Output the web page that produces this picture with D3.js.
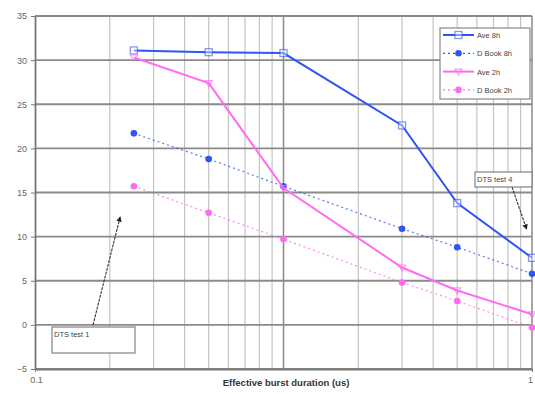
<!DOCTYPE html>
<html><head><meta charset="utf-8">
<script src="https://cdn.jsdelivr.net/npm/d3@7"></script>
<style>body{margin:0;background:#fff}svg{display:block;font-family:"Liberation Sans",Arial,sans-serif}</style>
</head><body><svg id="c" width="535" height="394"></svg>
<script>
const xValues = [0.25, 0.5, 1, 3, 5, 10];
const ave8h   = [31.1, 30.9, 30.8, 22.6, 13.8, 7.6];
const dBook8h = [21.7, 18.8, 15.7, 10.9, 8.8, 5.8];
const ave2h   = [30.3, 27.4, 15.5, 6.5, 3.9, 1.2];
const dBook2h = [15.7, 12.7, 9.7, 4.8, 2.7, -0.3];
const seriesNames = ["Ave 8h", "D Book 8h", "Ave 2h", "D Book 2h"];
const yTicks = [-5, 0, 5, 10, 15, 20, 25, 30, 35];
const xTickValues = [0.1, 10];
const xTickLabels = ["0.1", "1"];
const xTitle = "Effective burst duration (us)";
const notes = [{label:"DTS test 1", x:0.22, y:12.2}, {label:"DTS test 4", x:9.5, y:10.9}];

const svg = d3.select("#c");
const x = d3.scaleLog().domain([0.1, 10]).range([35, 532]);
const y = d3.scaleLinear().domain([-5, 35]).range([369, 16]);

const minor = [];
[0.1, 1].forEach(d => { for (let k = 2; k <= 9; k++) minor.push(d * k); });
svg.append("g").selectAll("line").data(minor).join("line")
  .attr("x1", d => x(d)).attr("x2", d => x(d)).attr("y1", y(35)).attr("y2", y(-5))
  .attr("stroke", "#c4c4c4").attr("stroke-width", 1.2);
svg.append("g").selectAll("line").data([1, 10]).join("line")
  .attr("x1", d => x(d)).attr("x2", d => x(d)).attr("y1", y(35)).attr("y2", y(-5))
  .attr("stroke", "#8a8a8a").attr("stroke-width", 1.5);
svg.append("g").selectAll("line").data(yTicks).join("line")
  .attr("x1", 35).attr("x2", 532).attr("y1", d => y(d)).attr("y2", d => y(d))
  .attr("stroke", "#8a8a8a").attr("stroke-width", 1.8);

const ya = svg.append("g").attr("transform", "translate(35,0)")
  .call(d3.axisLeft(y).tickValues(yTicks).tickSize(4).tickSizeOuter(0));
ya.select(".domain").attr("stroke", "#777").attr("stroke-width", 1.8);
ya.selectAll(".tick line").attr("stroke", "#777");
ya.selectAll("text").attr("fill", "#666").attr("font-size", 9).attr("dx", -1);

const xa = svg.append("g").attr("transform", `translate(0,${y(-5)})`)
  .call(d3.axisBottom(x).tickValues(xTickValues).tickFormat((d, i) => xTickLabels[i]).tickSize(3).tickSizeOuter(0));
xa.select(".domain").attr("stroke", "#777").attr("stroke-width", 1.8);
xa.selectAll(".tick line").attr("stroke", "#777");
xa.selectAll("text").attr("fill", "#666").attr("font-size", 9).attr("dy", 8)
  .attr("dx", (d, i) => i ? -2 : 1);

svg.append("text").attr("x", 286).attr("y", 386).attr("text-anchor", "middle")
  .attr("font-size", 9.5).attr("font-weight", "bold").attr("fill", "#333").text(xTitle);

const blue = "#2f55f5", pink = "#ff6cf0";
const series = [
  {name: seriesNames[0], vals: ave8h, color: blue, dash: null, w: 2, marker: "square"},
  {name: seriesNames[1], vals: dBook8h, color: blue, dash: "2,3", w: 1.2, marker: "dot"},
  {name: seriesNames[2], vals: ave2h, color: pink, dash: null, w: 2, marker: "tri"},
  {name: seriesNames[3], vals: dBook2h, color: pink, dash: "2,3", w: 1.2, marker: "dot"}
];
const line = d3.line().x(d => x(d[0])).y(d => y(d[1]));
function marker(g, type, color, cx, cy) {
  if (type === "dot") g.append("circle").attr("cx", cx).attr("cy", cy).attr("r", 3.3).attr("fill", color);
  else if (type === "square") g.append("rect").attr("x", cx - 3.5).attr("y", cy - 3.5).attr("width", 7).attr("height", 7)
    .attr("fill", "#fff").attr("fill-opacity", 0.4).attr("stroke", color).attr("stroke-opacity", 0.6).attr("stroke-width", 1.3);
  else g.append("path").attr("d", `M${cx - 3.5},${cy - 2.5}L${cx + 3.5},${cy - 2.5}L${cx},${cy + 3.5}Z`)
    .attr("fill", "none").attr("stroke", color).attr("stroke-opacity", 0.7).attr("stroke-width", 1.2);
}
series.forEach(s => {
  const pts = xValues.map((v, i) => [v, s.vals[i]]);
  svg.append("path").attr("d", line(pts)).attr("fill", "none").attr("stroke", s.color)
    .attr("stroke-width", s.w).attr("stroke-dasharray", s.dash).attr("opacity", s.dash ? 0.8 : 1);
  const g = svg.append("g");
  pts.forEach(p => marker(g, s.marker, s.color, x(p[0]), y(p[1])));
});

const lg = svg.append("g");
lg.append("rect").attr("x", 440).attr("y", 28).attr("width", 90).attr("height", 71)
  .attr("fill", "#fff").attr("stroke", "#888").attr("stroke-width", 1.2);
series.forEach((s, i) => {
  const ly = 35 + i * 18.3;
  lg.append("line").attr("x1", 443).attr("x2", 474).attr("y1", ly).attr("y2", ly)
    .attr("stroke", s.color).attr("stroke-width", s.w).attr("stroke-dasharray", s.dash);
  marker(lg, s.marker, s.color, 458.5, ly);
  lg.append("text").attr("x", 477).attr("y", ly + 3).attr("font-size", 7.5).attr("fill", "#444").text(s.name);
});

svg.append("defs").append("marker").attr("id", "ah").attr("viewBox", "0 0 10 10")
  .attr("refX", 8).attr("refY", 5).attr("markerWidth", 5).attr("markerHeight", 5).attr("orient", "auto")
  .append("path").attr("d", "M0,0L10,5L0,10Z").attr("fill", "#222");
const boxes = [{bx: 52, by: 327, bw: 83, bh: 26, sx: 93, sy: 325}, {bx: 475, by: 172, bw: 57, bh: 15, sx: 512, sy: 187}];
notes.forEach((n, i) => {
  const b = boxes[i];
  svg.append("line").attr("x1", b.sx).attr("y1", b.sy).attr("x2", x(n.x)).attr("y2", y(n.y))
    .attr("stroke", "#333").attr("stroke-width", 1.1).attr("stroke-dasharray", "3,1").attr("marker-end", "url(#ah)");
  svg.append("rect").attr("x", b.bx).attr("y", b.by).attr("width", b.bw).attr("height", b.bh)
    .attr("fill", "#fff").attr("stroke", "#777").attr("stroke-width", 1.1);
  svg.append("text").attr("x", b.bx + 2).attr("y", b.by + 10).attr("font-size", 7.5).attr("fill", "#444").text(n.label);
});
</script></body></html>
